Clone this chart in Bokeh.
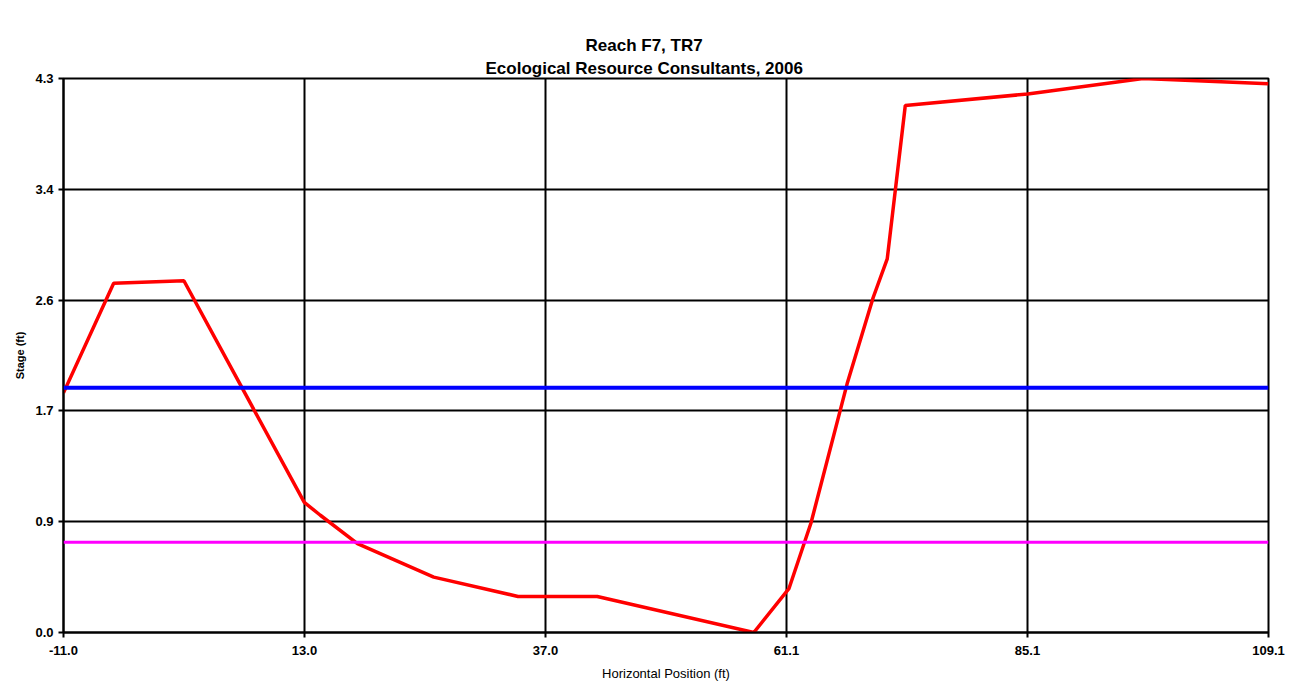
from bokeh.plotting import figure
from bokeh.models import FixedTicker, Range1d, Span, Title
from bokeh.embed import file_html
from bokeh.resources import INLINE

# ---- data ----
position_ft = [-11.0, -6.0, 1.0, 13.0, 14.6, 18.3, 25.9, 34.3, 42.2, 57.8,
               61.3, 63.5, 67.1, 69.7, 71.1, 72.9, 85.1, 96.6, 109.1]
stage_ft = [1.86, 2.71, 2.73, 1.01, 0.91, 0.69, 0.43, 0.28, 0.28, 0.0,
            0.34, 0.85, 1.93, 2.60, 2.90, 4.09, 4.18, 4.30, 4.26]
blue_level = 1.90
magenta_level = 0.70

x_ticks = [-11.0, 13.02, 37.04, 61.06, 85.08, 109.1]
x_tick_labels = ["-11.0", "13.0", "37.0", "61.1", "85.1", "109.1"]
y_ticks = [0.0, 0.86, 1.72, 2.58, 3.44, 4.3]
y_tick_labels = ["0.0", "0.9", "1.7", "2.6", "3.4", "4.3"]

title_lines = ["Reach F7, TR7", "Ecological Resource Consultants, 2006"]
x_label = "Horizontal Position (ft)"
y_label = "Stage (ft)"

FONT = "Liberation Sans"

p = figure(width=1295, height=686, output_backend="svg", toolbar_location=None,
           x_range=Range1d(x_ticks[0], x_ticks[-1]),
           y_range=Range1d(y_ticks[0], y_ticks[-1]),
           min_border_left=63, min_border_right=27,
           min_border_top=78, min_border_bottom=54,
           background_fill_color="white", border_fill_color="white")

p.title.visible = False
# second line is nearest the frame, added first
for txt, off in ((title_lines[1], 422), (title_lines[0], 522)):
    t = Title(text=txt, align="left", offset=off, standoff=2,
              text_font=FONT, text_font_size="17px", text_font_style="bold",
              text_color="black")
    p.add_layout(t, "above")

p.outline_line_color = "black"
p.outline_line_width = 2

for ax, ticks, labels in ((p.xaxis[0], x_ticks, x_tick_labels),
                          (p.yaxis[0], y_ticks, y_tick_labels)):
    ax.ticker = FixedTicker(ticks=ticks)
    ax.major_label_overrides = {t: l for t, l in zip(ticks, labels)}
    ax.minor_tick_line_color = None
    ax.major_tick_in = 0
    ax.major_tick_out = 5
    ax.major_tick_line_color = "black"
    ax.major_tick_line_width = 2
    ax.axis_line_color = "black"
    ax.axis_line_width = 2
    ax.major_label_text_font = FONT
    ax.major_label_text_font_size = "13px"
    ax.major_label_text_font_style = "bold"
    ax.major_label_text_color = "black"

p.xaxis.axis_label = x_label
p.xaxis.axis_label_text_font = FONT
p.xaxis.axis_label_text_font_size = "13px"
p.xaxis.axis_label_text_font_style = "normal"
p.xaxis.axis_label_text_color = "black"
p.xaxis.axis_label_standoff = 8
p.xaxis.major_label_standoff = 8

p.yaxis.axis_label = y_label
p.yaxis.axis_label_text_font = FONT
p.yaxis.axis_label_text_font_size = "11px"
p.yaxis.axis_label_text_font_style = "bold"
p.yaxis.axis_label_text_color = "black"
p.yaxis.axis_label_standoff = 6
p.yaxis.major_label_standoff = 5

p.grid.grid_line_color = "black"
p.grid.grid_line_width = 2
p.grid.grid_line_alpha = 1.0

p.add_layout(Span(location=blue_level, dimension="width", line_color="#0000FF", line_width=4))
p.add_layout(Span(location=magenta_level, dimension="width", line_color="#FF00FF", line_width=3))

p.line(position_ft, stage_ft, line_color="#FF0000", line_width=3.5)

open("out.html", "w").write(file_html(p, INLINE))
